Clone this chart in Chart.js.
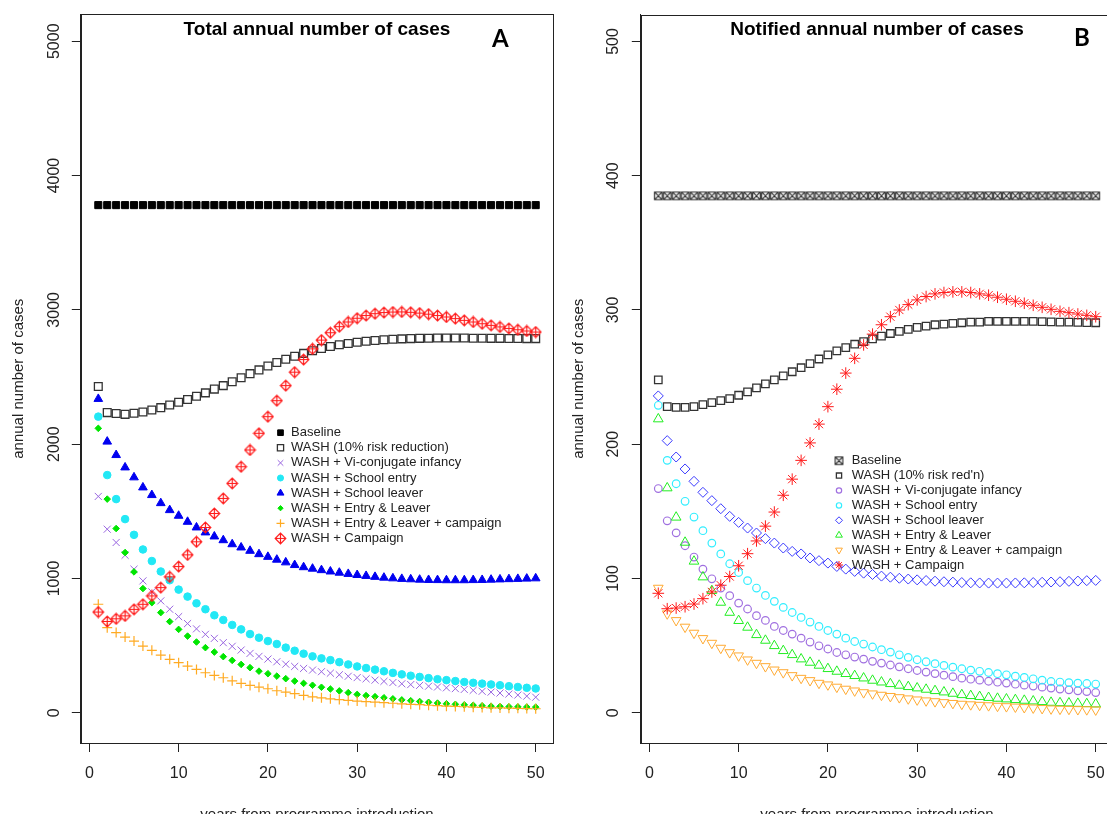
<!DOCTYPE html>
<html>
<head>
<meta charset="utf-8">
<script src="https://cdn.jsdelivr.net/npm/chart.js@4.4.0/dist/chart.umd.min.js"></script>
<style>
html, body { margin: 0; padding: 0; background: #fff; overflow: hidden; width: 1107px; height: 814px; }
.panel { position: absolute; top: 0; width: 560px; height: 830px; }
#panelA { left: 0; }
#panelB { left: 560px; }
</style>
</head>
<body>
<div class="panel" id="panelA"><canvas id="chartA" width="560" height="830"></canvas></div>
<div class="panel" id="panelB"><canvas id="chartB" width="560" height="830"></canvas></div>
<script>
const FONT = '"Liberation Sans", Arial, sans-serif';

// years 1..50 after programme introduction
const years = Array.from({ length: 50 }, (_, i) => i + 1);
const xTicks = [0, 10, 20, 30, 40, 50];
const yTicksA = [0, 1000, 2000, 3000, 4000, 5000];
const yTicksB = [0, 100, 200, 300, 400, 500];

const labelsA = ["Baseline", "WASH (10% risk reduction)", "WASH + Vi-conjugate infancy", "WASH + School entry",
    "WASH + School leaver", "WASH + Entry & Leaver", "WASH + Entry & Leaver + campaign", "WASH + Campaign"];
const labelsB = ["Baseline", "WASH (10% risk red'n)", "WASH + Vi-conjugate infancy", "WASH + School entry",
    "WASH + School leaver", "WASH + Entry & Leaver", "WASH + Entry & Leaver + campaign", "WASH + Campaign"];

// ---- Panel A: total annual number of cases ----
const baselineA = [3780, 3780, 3780, 3780, 3780, 3780, 3780, 3780, 3780, 3780, 3780, 3780, 3780, 3780, 3780, 3780, 3780,
    3780, 3780, 3780, 3780, 3780, 3780, 3780, 3780, 3780, 3780, 3780, 3780, 3780, 3780, 3780, 3780, 3780, 3780, 3780,
    3780, 3780, 3780, 3780, 3780, 3780, 3780, 3780, 3780, 3780, 3780, 3780, 3780, 3780];
const washA = [2430, 2235, 2228, 2222, 2230, 2240, 2255, 2272, 2292, 2312, 2333, 2357, 2382, 2410, 2436, 2465, 2494,
    2525, 2553, 2582, 2608, 2632, 2655, 2676, 2695, 2712, 2727, 2740, 2750, 2759, 2766, 2772, 2777, 2781, 2784, 2786,
    2788, 2789, 2790, 2790, 2790, 2790, 2789, 2789, 2788, 2788, 2787, 2787, 2786, 2786];
const viA = [1611, 1367, 1268, 1173, 1069, 982, 900, 833, 771, 716, 664, 625, 584, 554, 522, 495, 467, 442, 420, 400,
    380, 362, 345, 330, 318, 306, 295, 283, 272, 262, 253, 243, 234, 225, 216, 210, 204, 198, 192, 186, 180, 174, 167,
    160, 154, 147, 140, 132, 124, 116];
const entryA = [2205, 1770, 1591, 1442, 1325, 1216, 1130, 1052, 987, 917, 865, 815, 771, 726, 691, 654, 621, 586, 559,
    534, 512, 485, 462, 440, 420, 405, 392, 377, 360, 345, 333, 321, 309, 297, 286, 276, 267, 258, 250, 243, 236, 229,
    223, 217, 211, 205, 198, 192, 186, 181];
const leaverA = [2337, 2019, 1919, 1827, 1753, 1678, 1621, 1561, 1509, 1467, 1422, 1380, 1343, 1313, 1285, 1255, 1231,
    1206, 1181, 1161, 1140, 1120, 1100, 1084, 1073, 1062, 1052, 1043, 1034, 1026, 1019, 1012, 1006, 1001, 997, 994,
    991, 989, 988, 987, 987, 987, 988, 989, 991, 993, 995, 997, 999, 1001];
const entryLeaverA = [2118, 1591, 1372, 1193, 1049, 925, 820, 746, 679, 621, 571, 527, 485, 452, 418, 390, 360, 336,
    310, 291, 273, 254, 236, 219, 205, 190, 177, 163, 150, 137, 128, 120, 112, 104, 96, 90, 84, 78, 72, 67, 63, 59,
    56, 52, 49, 47, 45, 44, 43, 42];
const entryLeaverCampA = [808, 634, 597, 564, 534, 497, 465, 430, 398, 373, 348, 323, 298, 278, 261, 238, 219, 204,
    191, 179, 164, 154, 142, 130, 119, 111, 104, 98, 92, 87, 83, 79, 75, 71, 67, 63, 60, 56, 53, 49, 47, 45, 42, 40,
    37, 36, 34, 33, 31, 30];
const campaignA = [750, 680, 700, 722, 770, 808, 870, 932, 1012, 1089, 1176, 1273, 1380, 1484, 1596, 1708, 1832, 1957,
    2081, 2205, 2324, 2436, 2536, 2630, 2710, 2775, 2830, 2875, 2910, 2938, 2958, 2972, 2980, 2984, 2985, 2982, 2976,
    2968, 2958, 2947, 2935, 2922, 2910, 2897, 2885, 2873, 2862, 2852, 2843, 2835];

// ---- Panel B: notified annual number of cases ----
const baselineB = [385, 385, 385, 385, 385, 385, 385, 385, 385, 385, 385, 385, 385, 385, 385, 385, 385, 385, 385, 385,
    385, 385, 385, 385, 385, 385, 385, 385, 385, 385, 385, 385, 385, 385, 385, 385, 385, 385, 385, 385, 385, 385, 385,
    385, 385, 385, 385, 385, 385, 385];
const washB = [248, 228, 227.5, 227.5, 228, 229.5, 231, 232.5, 234, 236.5, 239, 242, 245, 248, 251, 254, 257, 260,
    263.5, 266.5, 269.5, 272, 274.5, 276.5, 278.5, 280.5, 282.5, 284, 285.5, 287, 288, 289, 289.5, 290, 290.5, 291,
    291, 291.5, 291.5, 291.5, 291.5, 291.5, 291.5, 291.3, 291.2, 291, 291, 290.8, 290.6, 290.5];
const viB = [167, 143, 134, 124.4, 116, 107, 99.8, 92.9, 87.2, 81.7, 77.3, 72.3, 68.8, 64.3, 61.3, 58.6, 55.6, 52.7,
    49.9, 47.5, 44.9, 43.2, 41.5, 40, 38.3, 37, 35.6, 34.2, 32.8, 31.5, 30.3, 29.2, 28, 26.9, 25.8, 25, 24.3, 23.5,
    22.8, 22.1, 21.3, 20.6, 19.9, 19.1, 18.4, 17.7, 17.1, 16.4, 15.8, 15.1];
const entryB = [229, 188, 170.6, 157.5, 145.8, 135.6, 126.4, 118.3, 111, 104.5, 98.4, 92.9, 87.4, 83, 78.5, 74.7, 71,
    67.6, 64.3, 61.3, 58.6, 55.6, 53.1, 51.2, 49, 47, 45.2, 43.2, 41.3, 39.5, 38, 36.6, 35.3, 34, 32.8, 31.8, 30.9,
    30, 29.1, 28.3, 27.3, 26.3, 25.3, 24.3, 23.3, 22.9, 22.5, 22.1, 21.8, 21.4];
const leaverB = [236, 202.7, 190.5, 181.6, 172.4, 164.2, 158, 152, 146.3, 141.8, 137.6, 133.9, 129.7, 126.4, 122.7,
    120.2, 118.3, 115.3, 113.3, 111.5, 109, 107, 105.3, 104, 103, 101.8, 101, 100.2, 99.6, 99, 98.5, 98, 97.6, 97.3,
    97, 96.8, 96.7, 96.6, 96.6, 96.6, 96.7, 96.8, 97, 97.2, 97.4, 97.6, 97.9, 98.1, 98.4, 98.6];
const entryLeaverB = [218.8, 167.4, 145.6, 126.9, 112.8, 101.1, 90.9, 82.2, 74.7, 68.6, 63.6, 58.1, 53.9, 49.9, 46.2,
    43.2, 40, 37.5, 35.3, 32.8, 30.8, 29.1, 27.6, 25.8, 24.1, 22.8, 21.6, 20.4, 19.4, 18.4, 17.4, 16.4, 15.4, 14.4,
    13.4, 12.7, 12, 11.3, 10.7, 10.2, 9.7, 9.2, 8.7, 8.2, 7.7, 7.4, 7.2, 6.9, 6.7, 6.5];
const entryLeaverCampB = [92.9, 73.8, 68.8, 63.9, 59.4, 55.4, 51.9, 48.2, 44.9, 42.5, 39.5, 37, 34.5, 32, 30, 27.8,
    25.8, 24.1, 22.1, 20.9, 19.2, 17.7, 16.4, 15.1, 14.2, 13.2, 12.3, 11.4, 10.5, 9.7, 9, 8.4, 7.7, 7.1, 6.5, 6.1,
    5.7, 5.4, 5, 4.7, 4.4, 4, 3.7, 3.3, 3, 2.8, 2.7, 2.5, 2.4, 2.2];
const campaignB = [89, 77.5, 78, 79, 81, 85, 90, 95, 101.5, 109.5, 118.5, 128, 139, 149.5, 162, 174, 188, 201, 215,
    228, 241, 253, 264, 274, 282, 289, 295, 300, 304, 307.5, 310, 312, 313, 313.5, 313.5, 313, 312, 311, 309.5, 308,
    306.5, 305, 303.5, 302, 300.5, 299, 298, 297, 296, 295];

// small canvases for R symbols Chart.js has no built-in for
function symbolCanvas(size, draw) {
    const c = document.createElement('canvas');
    c.width = size;
    c.height = size;
    draw(c.getContext('2d'), size / 2);
    return c;
}
const diamondPlus = symbolCanvas(13, (g, m) => {   // pch 9
    const r = 5.3;
    g.strokeStyle = '#ff1a1a';
    g.lineWidth = 1.2;
    g.beginPath();
    g.moveTo(m, m - r); g.lineTo(m + r, m); g.lineTo(m, m + r); g.lineTo(m - r, m); g.closePath();
    g.moveTo(m, m - r); g.lineTo(m, m + r);
    g.moveTo(m - r, m); g.lineTo(m + r, m);
    g.stroke();
});
const squareCross = symbolCanvas(11, (g, m) => {   // pch 7
    const h = 3.8;
    g.strokeStyle = '#222';
    g.lineWidth = 1.1;
    g.beginPath();
    g.rect(m - h, m - h, 2 * h, 2 * h);
    g.moveTo(m - h, m - h); g.lineTo(m + h, m + h);
    g.moveTo(m + h, m - h); g.lineTo(m - h, m + h);
    g.stroke();
});

const panelDecor = {
    id: 'panelDecor',
    afterDraw(chart, args, o) {
        const { ctx, chartArea: a } = chart;
        ctx.save();
        ctx.strokeStyle = '#222';
        ctx.lineWidth = 1;
        ctx.strokeRect(Math.round(a.left) + 0.5, Math.round(a.top) + 0.5,
            Math.round(a.right - a.left), Math.round(a.bottom - a.top));

        ctx.fillStyle = '#000';
        ctx.textAlign = 'center';
        ctx.textBaseline = 'alphabetic';
        ctx.font = 'bold 19px ' + FONT;
        ctx.fillText(o.title, (a.left + a.right) / 2, 34.8);
        ctx.font = 'bold 24px Lato, ' + FONT;
        ctx.fillText(o.letter, o.letterX, o.letterY);

        ctx.font = '13px ' + FONT;
        ctx.textAlign = 'left';
        ctx.textBaseline = 'middle';
        chart.data.datasets.forEach((ds, i) => {
            const y = o.legendY + i * o.legendDy;
            ctx.fillStyle = ds.pointBackgroundColor;
            ctx.strokeStyle = ds.pointBorderColor;
            ctx.lineWidth = ds.pointBorderWidth;
            Chart.helpers.drawPoint(ctx, {
                pointStyle: ds.pointStyle,
                radius: ds.pointRadius * o.legendScale,
                rotation: ds.pointRotation,
                borderWidth: ds.pointBorderWidth
            }, o.legendX, y);
            ctx.fillStyle = '#222';
            ctx.fillText(ds.label, o.legendTextX, y);
        });
        ctx.restore();
    }
};

function makePanel(canvasId, p) {
    const n = p.series.length;
    const datasets = p.series.map((s, i) => ({
        label: p.labels[i],
        data: years.map((yr, j) => ({ x: yr, y: s.values[j] })),
        pointStyle: s.style,
        pointRadius: s.radius,
        pointHoverRadius: s.radius,
        pointRotation: s.rotation || 0,
        pointBorderWidth: s.lw,
        pointBackgroundColor: s.fill ? s.color : 'rgba(0,0,0,0)',
        pointBorderColor: s.color,
        backgroundColor: s.fill ? s.color : 'rgba(0,0,0,0)',
        borderColor: s.color,
        showLine: false,
        order: n - i
    }));

    return new Chart(document.getElementById(canvasId), {
        type: 'scatter',
        data: { datasets },
        options: {
            responsive: false,
            animation: false,
            events: [],
            layout: { padding: { top: 14.4, right: 2.2, bottom: 0, left: 0 } },
            plugins: {
                legend: { display: false },
                tooltip: { enabled: false },
                panelDecor: p.decor
            },
            scales: {
                x: {
                    type: 'linear',
                    min: -0.96,
                    max: 51.96,
                    afterBuildTicks: s => { s.ticks = xTicks.map(v => ({ value: v })); },
                    afterFit: s => { s.height = 87; },
                    grid: { drawOnChartArea: false, tickLength: 9, color: '#222' },
                    border: { color: '#222' },
                    ticks: { font: { family: FONT, size: 16 }, color: '#222', padding: 12, maxRotation: 0,
                        callback: v => String(v) },
                    title: { display: true, text: 'years from programme introduction', color: '#222',
                        font: { family: FONT, size: 15 }, padding: { top: 0, bottom: 6 } }
                },
                y: {
                    type: 'linear',
                    min: p.yMin,
                    max: p.yMax,
                    afterBuildTicks: s => { s.ticks = p.yTicks.map(v => ({ value: v })); },
                    afterFit: s => { s.width = 80.8; },
                    grid: { drawOnChartArea: false, tickLength: 9, color: '#222' },
                    border: { color: '#222' },
                    ticks: { font: { family: FONT, size: 16 }, color: '#222', padding: p.yTickPad,
                        minRotation: 90, maxRotation: 90, crossAlign: 'center', callback: v => String(v) },
                    title: { display: true, text: 'annual number of cases', color: '#222',
                        font: { family: FONT, size: 15 }, padding: { top: 10, bottom: 0 } }
                }
            }
        },
        plugins: [panelDecor]
    });
}

makePanel('chartA', {
    labels: labelsA,
    yMin: -225, yMax: 5200, yTicks: yTicksA, yTickPad: -0.5,
    series: [
        { values: baselineA, style: 'rect', radius: 5, lw: 1, color: '#000', fill: true },
        { values: washA, style: 'rect', radius: 5.5, lw: 1.3, color: '#333', fill: false },
        { values: viA, style: 'crossRot', radius: 5, lw: 1, color: '#9966e0', fill: false },
        { values: entryA, style: 'circle', radius: 3.8, lw: 1, color: '#22e8f5', fill: true },
        { values: leaverA, style: 'triangle', radius: 5, lw: 1, color: '#0000f0', fill: true },
        { values: entryLeaverA, style: 'rectRot', radius: 3.3, lw: 1, color: '#00e600', fill: true },
        { values: entryLeaverCampA, style: 'cross', radius: 5, lw: 1.2, color: '#ffaa22', fill: false },
        { values: campaignA, style: diamondPlus, radius: 5, lw: 1, color: '#ff1a1a', fill: false }
    ],
    decor: {
        title: 'Total annual number of cases', letter: 'A', letterX: 500.4, letterY: 47.4,
        legendX: 280.5, legendTextX: 291, legendY: 432.7, legendDy: 15.1, legendScale: 0.8
    }
});

makePanel('chartB', {
    labels: labelsB,
    yMin: -22.5, yMax: 520, yTicks: yTicksB, yTickPad: 5,
    series: [
        { values: baselineB, style: squareCross, radius: 5, lw: 1, color: '#222', fill: false },
        { values: washB, style: 'rect', radius: 5.3, lw: 1.3, color: '#333', fill: false },
        { values: viB, style: 'circle', radius: 3.8, lw: 1.2, color: '#a070e0', fill: false },
        { values: entryB, style: 'circle', radius: 3.8, lw: 1.2, color: '#33eeff', fill: false },
        { values: leaverB, style: 'rectRot', radius: 5, lw: 1, color: '#3a3aff', fill: false },
        { values: entryLeaverB, style: 'triangle', radius: 5.6, lw: 1, color: '#22ee22', fill: false },
        { values: entryLeaverCampB, style: 'triangle', rotation: 180, radius: 5.6, lw: 1, color: '#ffaa33', fill: false },
        { values: campaignB, style: 'star', radius: 5.8, lw: 1, color: '#ff1a1a', fill: false }
    ],
    decor: {
        title: 'Notified annual number of cases', letter: 'B', letterX: 522, letterY: 45.6,
        legendX: 279, legendTextX: 291.7, legendY: 460.7, legendDy: 14.9, legendScale: 0.7
    }
});
</script>
</body>
</html>
